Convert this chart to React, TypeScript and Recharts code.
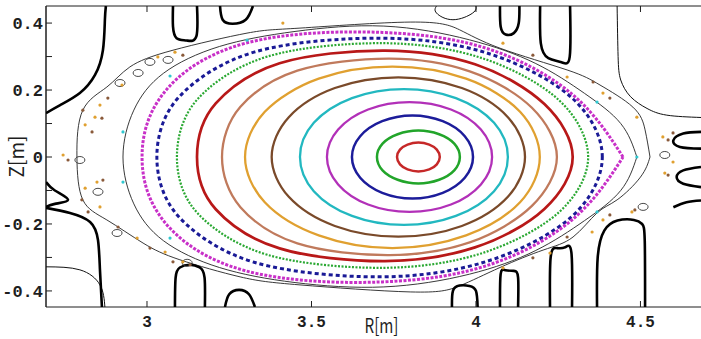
import React from "react";
import { ScatterChart, Scatter, XAxis, YAxis, ReferenceLine } from "recharts";

type Pt = [number, number];

const X_DOMAIN: [number, number] = [2.693, 4.684];
const Y_DOMAIN: [number, number] = [-0.448, 0.451];
const X_TICKS = [3, 3.5, 4, 4.5];
const Y_TICKS = [-0.4, -0.3, -0.2, -0.1, 0, 0.1, 0.2, 0.3, 0.4];
const Y_LABELED = [-0.4, -0.2, 0, 0.2, 0.4];

// closed flux surfaces, inner -> outer, read as (R, Z)
const surfRedCore: Pt[] = [[3.890,0],[3.881,0.022],[3.858,0.037],[3.825,0.043],[3.792,0.037],[3.769,0.022],[3.760,0],[3.769,-0.022],[3.792,-0.037],[3.825,-0.043],[3.858,-0.037],[3.881,-0.022],[3.890,0]];
const surfGreen: Pt[] = [[3.951,0],[3.934,0.040],[3.888,0.068],[3.825,0.079],[3.762,0.068],[3.716,0.040],[3.699,0],[3.716,-0.040],[3.762,-0.068],[3.825,-0.079],[3.888,-0.068],[3.934,-0.040],[3.951,0]];
const surfBlue: Pt[] = [[3.991,0],[3.966,0.062],[3.899,0.107],[3.807,0.124],[3.715,0.107],[3.648,0.062],[3.623,0],[3.648,-0.062],[3.715,-0.107],[3.807,-0.124],[3.899,-0.107],[3.966,-0.062],[3.991,0]];
const surfMagenta: Pt[] = [[4.049,0],[4.015,0.082],[3.924,0.142],[3.798,0.164],[3.672,0.142],[3.581,0.082],[3.547,0],[3.581,-0.082],[3.672,-0.142],[3.798,-0.164],[3.924,-0.142],[4.015,-0.082],[4.049,0]];
const surfCyan: Pt[] = [[4.097,0],[4.055,0.102],[3.939,0.176],[3.781,0.203],[3.623,0.176],[3.507,0.102],[3.465,0],[3.507,-0.102],[3.623,-0.176],[3.781,-0.203],[3.939,-0.176],[4.055,-0.102],[4.097,0]];
const surfBrown: Pt[] = [[4.149,0],[4.097,0.119],[3.957,0.206],[3.764,0.238],[3.571,0.206],[3.431,0.119],[3.379,0],[3.431,-0.119],[3.571,-0.206],[3.764,-0.238],[3.957,-0.206],[4.097,-0.119],[4.149,0]];
const surfGold: Pt[] = [[4.194,0],[4.134,0.135],[3.970,0.234],[3.746,0.270],[3.522,0.234],[3.358,0.135],[3.298,0],[3.358,-0.135],[3.522,-0.234],[3.746,-0.272],[3.970,-0.234],[4.134,-0.135],[4.194,0]];
const surfSalmon: Pt[] = [[4.246,0],[4.170,0.147],[3.981,0.256],[3.737,0.294],[3.457,0.258],[3.284,0.150],[3.228,0],[3.284,-0.150],[3.457,-0.258],[3.737,-0.293],[3.981,-0.255],[4.170,-0.146],[4.246,0]];
const surfRed: Pt[] = [[4.294,0],[4.208,0.158],[3.997,0.277],[3.723,0.318],[3.403,0.280],[3.209,0.160],[3.152,0],[3.209,-0.156],[3.403,-0.273],[3.723,-0.311],[3.997,-0.270],[4.208,-0.155],[4.294,0]];
const surfGreenDot: Pt[] = [[4.341,0],[4.252,0.170],[4.016,0.296],[3.716,0.340],[3.366,0.300],[3.153,0.172],[3.091,0],[3.153,-0.167],[3.366,-0.292],[3.716,-0.331],[4.016,-0.288],[4.252,-0.165],[4.341,0]];
const surfBlueDash: Pt[] = [[4.384,0],[4.290,0.178],[4.032,0.311],[3.707,0.355],[3.328,0.314],[3.098,0.180],[3.030,0],[3.098,-0.180],[3.328,-0.315],[3.707,-0.358],[4.032,-0.312],[4.290,-0.179],[4.384,0]];
const surfMagentaDot: Pt[] = [[4.447,0],[4.301,0.180],[4.052,0.318],[3.716,0.372],[3.300,0.340],[3.050,0.190],[2.985,0],[3.050,-0.190],[3.300,-0.340],[3.716,-0.373],[4.052,-0.318],[4.301,-0.180],[4.447,0]];

// thin black contours in the edge region
const contourA: Pt[] = [[4.489,0],[4.44,0.10],[4.33,0.19],[4.18,0.28],[3.98,0.35],[3.72,0.391],[3.45,0.375],[3.22,0.33],[3.05,0.25],[2.96,0.14],[2.927,0],[2.96,-0.14],[3.05,-0.25],[3.22,-0.33],[3.45,-0.375],[3.72,-0.388],[3.98,-0.35],[4.18,-0.28],[4.33,-0.19],[4.44,-0.10],[4.489,0]];
const contourB: Pt[] = [[4.529,0],[4.514,0.081],[4.477,0.149],[4.377,0.215],[4.277,0.26],[4.073,0.325],[3.95,0.38],[3.80,0.403],[3.465,0.385],[3.304,0.370],[3.079,0.319],[2.948,0.269],[2.878,0.209],[2.805,0.140],[2.787,0],[2.805,-0.128],[2.878,-0.188],[2.988,-0.257],[3.100,-0.307],[3.283,-0.358],[3.465,-0.382],[3.80,-0.403],[3.95,-0.385],[4.073,-0.33],[4.204,-0.278],[4.295,-0.239],[4.368,-0.167],[4.429,-0.128],[4.50,-0.06],[4.529,0]];

// separatrix legs / dense contour bundles touching the frame
const legsThin: Pt[][] = [
  [[2.693,-0.328],[2.796,-0.337],[2.857,-0.382],[2.872,-0.448]],
  [[4.429,0.451],[4.432,0.30],[4.44,0.23],[4.47,0.18],[4.52,0.145],[4.58,0.125],[4.684,0.118]],
  [[3.88,0.451],[3.88,0.43],[3.93,0.41],[3.99,0.43],[4.0,0.451]],
];
const legsThick: Pt[][] = [
  [[2.693,0.131],[2.736,0.155],[2.796,0.191],[2.842,0.245],[2.866,0.319],[2.872,0.409],[2.875,0.451]],
  [[2.693,-0.152],[2.766,-0.167],[2.827,-0.194],[2.851,-0.248],[2.857,-0.337],[2.863,-0.448]],
  [[2.693,-0.075],[2.72,-0.10],[2.76,-0.128],[2.72,-0.14],[2.693,-0.149]],
  [[3.079,0.451],[3.079,0.39],[3.09,0.355],[3.12,0.348],[3.15,0.36],[3.152,0.451]],
  [[3.222,0.451],[3.23,0.41],[3.26,0.398],[3.30,0.41],[3.322,0.451]],
  [[4.073,0.451],[4.075,0.39],[4.09,0.366],[4.115,0.37],[4.13,0.40],[4.132,0.451]],
  [[4.195,0.451],[4.197,0.34],[4.22,0.295],[4.26,0.283],[4.285,0.30],[4.286,0.451]],
  [[4.368,-0.448],[4.37,-0.30],[4.39,-0.22],[4.43,-0.19],[4.48,-0.188],[4.505,-0.20],[4.513,-0.25],[4.514,-0.448]],
  [[4.225,-0.448],[4.227,-0.30],[4.245,-0.272],[4.27,-0.27],[4.29,-0.285],[4.292,-0.448]],
  [[4.073,-0.448],[4.075,-0.35],[4.09,-0.338],[4.115,-0.34],[4.128,-0.36],[4.128,-0.448]],
  [[3.085,-0.448],[3.087,-0.36],[3.10,-0.33],[3.13,-0.322],[3.16,-0.33],[3.175,-0.36],[3.176,-0.448]],
  [[3.237,-0.448],[3.25,-0.41],[3.28,-0.397],[3.31,-0.41],[3.328,-0.448]],
  [[3.927,-0.448],[3.93,-0.40],[3.95,-0.384],[3.98,-0.385],[4.0,-0.40],[4.005,-0.448]],
  [[4.684,0.075],[4.63,0.07],[4.60,0.05],[4.62,0.03],[4.684,0.025]],
  [[4.684,-0.03],[4.63,-0.04],[4.61,-0.06],[4.63,-0.08],[4.684,-0.09]],
  [[4.684,-0.13],[4.64,-0.135],[4.60,-0.15]],
];

const islands: Pt[] = [[2.796,-0.009],[2.851,-0.104],[3.009,0.284],[3.064,0.290],[2.973,0.251],[2.918,0.221],[2.909,-0.227],[3.122,-0.316],[4.508,-0.149],[4.574,0.006]];

const orangeDots: Pt[] = [[3.413,0.400],[3.085,0.313],[3.033,0.299],[2.924,0.215],[2.857,0.155],[2.842,0.119],[2.812,0.096],[2.745,0.006],[2.848,-0.075],[2.812,-0.093],[2.857,-0.149],[2.970,-0.242],[3.055,-0.284],[3.109,-0.313],[4.386,-0.188],[4.353,-0.224],[4.225,-0.287],[4.082,-0.331],[4.474,-0.164],[4.082,0.340],[4.277,0.239],[4.386,0.191],[4.489,0.119],[4.568,0.060],[4.599,-0.015],[4.574,-0.048]];
const brownDots: Pt[] = [[3.109,0.304],[2.881,0.176],[2.805,0.140],[2.863,0.116],[2.833,0.075],[2.760,-0.009],[2.866,-0.069],[2.802,-0.128],[2.821,-0.164],[2.912,-0.209],[3.009,-0.272],[3.079,-0.313],[3.131,-0.322],[4.407,-0.173],[4.277,-0.239],[4.173,-0.301],[4.483,-0.158],[4.173,0.304],[4.356,0.224],[4.407,0.176],[4.599,0.072],[4.584,0.051],[4.584,-0.054]];
const cyanDots: Pt[] = [[3.304,0.349],[3.070,0.242],[2.927,0.075],[2.927,-0.075],[3.070,-0.242],[4.489,0],[4.368,0.164],[4.368,-0.164]];

// closed Catmull-Rom curve factory for d3-style line generators (no seam)
function closedSmooth(context: any) {
  let pts: Pt[] = [];
  return {
    areaStart() {},
    areaEnd() {},
    lineStart() {
      pts = [];
    },
    point(x: number, y: number) {
      pts.push([+x, +y]);
    },
    lineEnd() {
      const p = pts.slice();
      if (p.length > 2) {
        const a = p[0];
        const b = p[p.length - 1];
        if (Math.abs(a[0] - b[0]) < 1e-6 && Math.abs(a[1] - b[1]) < 1e-6) p.pop();
      }
      const n = p.length;
      if (n < 3) return;
      const at = (i: number) => p[(i + n) % n];
      context.moveTo(p[0][0], p[0][1]);
      for (let i = 0; i < n; i++) {
        const p0 = at(i - 1);
        const p1 = at(i);
        const p2 = at(i + 1);
        const p3 = at(i + 2);
        context.bezierCurveTo(
          p1[0] + (p2[0] - p0[0]) / 6,
          p1[1] + (p2[1] - p0[1]) / 6,
          p2[0] - (p3[0] - p1[0]) / 6,
          p2[1] - (p3[1] - p1[1]) / 6,
          p2[0],
          p2[1]
        );
      }
      context.closePath();
    },
  };
}

const SURFACES = [
  { name: "core", data: surfRedCore, color: "#c62828", width: 2.5 },
  { name: "green", data: surfGreen, color: "#22a52a", width: 2.5 },
  { name: "blue", data: surfBlue, color: "#1c1c9a", width: 2.5 },
  { name: "magenta", data: surfMagenta, color: "#b230b8", width: 2.3 },
  { name: "cyan", data: surfCyan, color: "#22b8c0", width: 2.3 },
  { name: "brown", data: surfBrown, color: "#7a4a2a", width: 2.3 },
  { name: "gold", data: surfGold, color: "#e0a030", width: 2.3 },
  { name: "salmon", data: surfSalmon, color: "#c07a5c", width: 2.3 },
  { name: "red", data: surfRed, color: "#b81818", width: 2.7 },
  { name: "greenDot", data: surfGreenDot, color: "#2aa832", width: 2.2, dash: "2 1.5" },
  { name: "blueDash", data: surfBlueDash, color: "#1a1a96", width: 3, dash: "4 3" },
  { name: "magentaDot", data: surfMagentaDot, color: "#c830c8", width: 3, dash: "3 1.5", tip: true },
];

const toRows = (pts: Pt[]) => pts.map(([r, z]) => ({ r, z }));
const fmt = (v: number) => (Math.abs(v) < 1e-9 ? "0" : String(Math.round(v * 10) / 10));
const FONT = "'Liberation Mono', 'DejaVu Sans Mono', monospace";
const LABEL_FONT = "'Noto Sans CJK JP', sans-serif";
const INK = "#1e1e1e";

const NoShape = () => <g />;
const dot = (color: string) => (p: any) => <circle cx={p.cx} cy={p.cy} r={1.6} fill={color} />;
const islandShape = (p: any) => (
  <ellipse cx={p.cx} cy={p.cy} rx={5} ry={3.5} fill="none" stroke="#333" strokeWidth={0.9} />
);

function BottomTick(props: any) {
  const { x, y, payload } = props;
  return (
    <g>
      <line x1={x} y1={y} x2={x} y2={y - 6} stroke={INK} />
      <text x={x} y={y + 20} textAnchor="middle" fontFamily={FONT} fontWeight="bold" fontSize={16} fill={INK}>
        {fmt(payload.value)}
      </text>
    </g>
  );
}

function TopTick(props: any) {
  const { x, y } = props;
  return <line x1={x} y1={y} x2={x} y2={y + 6} stroke={INK} />;
}

function LeftTick(props: any) {
  const { x, y, payload } = props;
  const v = payload.value as number;
  const labeled = Y_LABELED.some((t) => Math.abs(t - v) < 1e-6);
  return (
    <g>
      <line x1={x} y1={y} x2={x + 6} y2={y} stroke={INK} />
      {labeled && (
        <text x={x - 3} y={y + 6} textAnchor="end" fontFamily={FONT} fontWeight="bold" fontSize={17} fill={INK}>
          {fmt(v)}
        </text>
      )}
    </g>
  );
}

export default function App() {
  return (
    <div style={{ width: 701, height: 339, background: "#fff" }}>
      <style>{"body{margin:0;}"}</style>
      <ScatterChart width={701} height={339} margin={{ top: 0, right: 0, bottom: 0, left: 0 }}>
        <XAxis
          type="number"
          dataKey="r"
          domain={X_DOMAIN}
          allowDataOverflow
          ticks={X_TICKS}
          tickSize={0}
          tickMargin={0}
          tickLine={false}
          tick={BottomTick}
          height={32}
          axisLine={{ stroke: INK }}
          label={{
            content: (p: any) => {
              const vb = p.viewBox;
              return (
                <text x={vb.x + vb.width / 2 + 8} y={vb.y + vb.height - 6} textAnchor="middle" fontFamily={LABEL_FONT} fontSize={20} fill={INK} textLength={34} lengthAdjust="spacingAndGlyphs">
                  R[m]
                </text>
              );
            },
          }}
        />
        <XAxis
          xAxisId="top"
          orientation="top"
          type="number"
          dataKey="r"
          domain={X_DOMAIN}
          allowDataOverflow
          ticks={X_TICKS}
          tickSize={0}
          tickMargin={0}
          tickLine={false}
          tick={TopTick}
          height={6}
          axisLine={{ stroke: INK }}
        />
        <YAxis
          type="number"
          dataKey="z"
          domain={Y_DOMAIN}
          allowDataOverflow
          ticks={Y_TICKS}
          interval={0}
          tickSize={0}
          tickMargin={0}
          tickLine={false}
          tick={LeftTick}
          width={46}
          axisLine={{ stroke: INK }}
          label={{
            content: (p: any) => {
              const vb = p.viewBox;
              const cx = vb.x + 24;
              const cy = vb.y + vb.height / 2;
              return (
                <text transform={`translate(${cx},${cy}) rotate(-90)`} textAnchor="middle" fontFamily={LABEL_FONT} fontSize={20} fill={INK} textLength={42} lengthAdjust="spacingAndGlyphs">
                  Z[m]
                </text>
              );
            },
          }}
        />

        <Scatter data={toRows(contourB)} line={{ stroke: "#222", strokeWidth: 0.9 }} lineJointType="natural" shape={NoShape} isAnimationActive={false} />
        <Scatter data={toRows(contourA)} line={{ stroke: "#222", strokeWidth: 0.9 }} lineJointType="natural" shape={NoShape} isAnimationActive={false} />
        {legsThin.map((leg, i) => (
          <Scatter key={`lt${i}`} data={toRows(leg)} line={{ stroke: "#111", strokeWidth: 1 }} lineJointType="natural" shape={NoShape} isAnimationActive={false} />
        ))}
        {legsThick.map((leg, i) => (
          <Scatter key={`lk${i}`} data={toRows(leg)} line={{ stroke: "#000", strokeWidth: 2.6 }} lineJointType="natural" shape={NoShape} isAnimationActive={false} />
        ))}
        <Scatter data={toRows(islands)} shape={islandShape} isAnimationActive={false} />

        {SURFACES.map((s) => (
          <Scatter
            key={s.name}
            data={toRows(s.data)}
            line={{ stroke: s.color, strokeWidth: s.width, strokeDasharray: s.dash }}
            lineJointType={(s.tip ? "natural" : closedSmooth) as any}
            shape={NoShape}
            isAnimationActive={false}
          />
        ))}

        <Scatter data={toRows(orangeDots)} shape={dot("#e0a030")} isAnimationActive={false} />
        <Scatter data={toRows(brownDots)} shape={dot("#8a5a3a")} isAnimationActive={false} />
        <Scatter data={toRows(cyanDots)} shape={dot("#30c8d0")} isAnimationActive={false} />
        <ReferenceLine x={X_DOMAIN[0]} stroke={INK} />
      </ScatterChart>
    </div>
  );
}
